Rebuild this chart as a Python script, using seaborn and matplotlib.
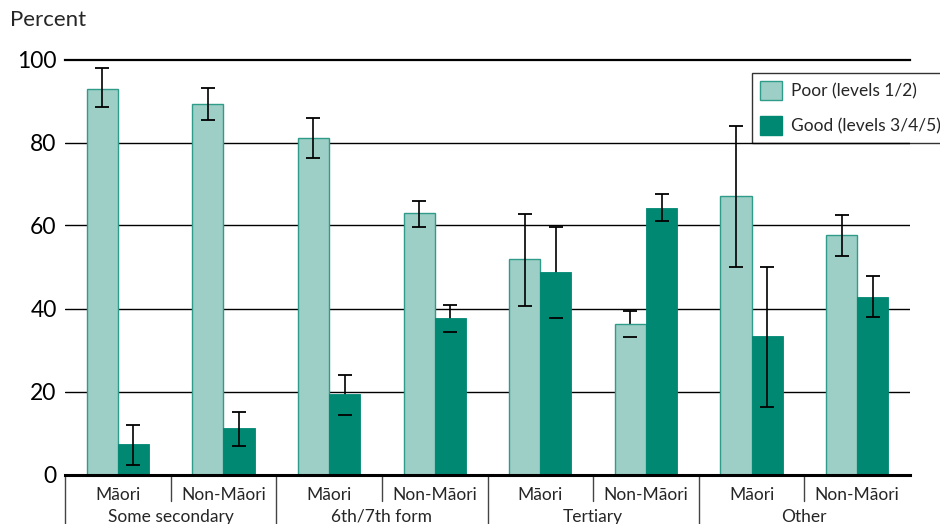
import pandas as pd
import matplotlib
matplotlib.use("Agg")
import matplotlib.pyplot as plt
import seaborn as sns

# education groups and ethnicity sub-groups
groups = ["Some secondary", "6th/7th form", "Tertiary", "Other"]
ethnicity = ["Māori", "Non-Māori"]
series = ["Poor (levels 1/2)", "Good (levels 3/4/5)"]

# percent values per sub-group (Māori, Non-Māori for each group)
poor = [93.0, 89.2, 81.2, 62.9, 51.9, 36.3, 67.1, 57.6]
poor_lo = [88.6, 85.4, 76.2, 59.7, 40.6, 33.1, 50.0, 52.6]
poor_hi = [98.0, 93.2, 85.8, 65.9, 62.7, 39.3, 84.0, 62.5]
good = [7.4, 11.2, 19.5, 37.8, 48.9, 64.1, 33.3, 42.8]
good_lo = [2.4, 6.9, 14.4, 34.4, 37.6, 61.0, 16.3, 37.9]
good_hi = [12.0, 15.1, 24.0, 40.9, 59.7, 67.5, 50.0, 47.8]

# bars where the lower whisker is hidden behind the bar in the original
poor_hidden = [5]
good_hidden = [2, 3, 4]

keys = [f"{g}|{e}" for g in groups for e in ethnicity]
df = pd.DataFrame({
    "key": keys * 2,
    "series": [series[0]] * len(keys) + [series[1]] * len(keys),
    "value": poor + good,
})

light = "#9dcfc6"
light_edge = "#2f9c89"
dark = "#008873"

sns.set_style("white")
plt.rcParams["font.family"] = ["Lato", "DejaVu Sans"]

fig = plt.figure(figsize=(9.4, 5.24), dpi=100)
ax = fig.add_axes([65 / 940, 1 - 474.5 / 524, 845 / 940, 415 / 524])

sns.barplot(data=df, x="key", y="value", hue="series", order=keys,
            hue_order=series, palette=[light, dark], width=0.59,
            errorbar=None, saturation=1, ax=ax, legend=False, zorder=1)

# bar edges
for p in ax.containers[0]:
    p.set_edgecolor(light_edge)
    p.set_linewidth(1.0)
for p in ax.containers[1]:
    p.set_edgecolor(dark)
    p.set_linewidth(0.6)


def draw_errors(container, vals, lo, hi, hidden):
    xs = [p.get_x() + p.get_width() / 2 for p in container]
    for i, x in enumerate(xs):
        z = 0.8 if i in hidden else 2.5
        _, caps, cols = ax.errorbar([x], [vals[i]], yerr=[[vals[i] - lo[i]], [hi[i] - vals[i]]],
                                    fmt="none", ecolor="black", elinewidth=1.2,
                                    capsize=5, capthick=1.3)
        for c in cols:
            c.set_zorder(z)
        for c in caps:
            c.set_zorder(3)


draw_errors(ax.containers[0], poor, poor_lo, poor_hi, poor_hidden)
draw_errors(ax.containers[1], good, good_lo, good_hi, good_hidden)

ax.set_ylim(0, 100)
ax.set_xlim(-0.5, len(keys) - 0.5)
ax.set_yticks([0, 20, 40, 60, 80, 100])
ax.yaxis.grid(True, color="black", linewidth=1.0)
ax.set_axisbelow(True)
ax.tick_params(axis="y", length=0, pad=6, labelsize=16.5, colors="black")
ax.set_xticks([])
ax.set_xlabel("")
ax.set_ylabel("")

for s in ["left", "right"]:
    ax.spines[s].set_visible(False)
ax.spines["top"].set_color("black")
ax.spines["top"].set_linewidth(1.6)
ax.spines["bottom"].set_color("black")
ax.spines["bottom"].set_linewidth(2.2)

# two level category labels under the axis
trans = ax.get_xaxis_transform()
for i, k in enumerate(keys):
    g, e = k.split("|")
    ax.text(i, -0.05, e, transform=trans, ha="center", va="center", fontsize=12.5)
for j, g in enumerate(groups):
    ax.text(2 * j + 0.5, -0.102, g, transform=trans, ha="center", va="center", fontsize=12.5)
    ax.plot([2 * j - 0.5] * 2, [0, -0.2], transform=trans, color="#444444",
            linewidth=1.0, clip_on=False)
    ax.plot([2 * j + 0.5] * 2, [0, -0.063], transform=trans, color="#444444",
            linewidth=1.0, clip_on=False)

# legend
handles = [
    plt.Rectangle((0, 0), 1, 1, facecolor=light, edgecolor=light_edge, linewidth=1.0),
    plt.Rectangle((0, 0), 1, 1, facecolor=dark, edgecolor=dark),
]
leg = fig.legend(handles, series, loc="upper left",
                 bbox_to_anchor=(752 / 940, 1 - 73 / 524), fontsize=12.5,
                 frameon=True, fancybox=False, handlelength=1.25, handleheight=1.3,
                 handletextpad=0.55, borderpad=0.45, labelspacing=0.95,
                 borderaxespad=0)
leg.get_frame().set_edgecolor("black")
leg.get_frame().set_linewidth(1.0)
leg.get_frame().set_facecolor("none")

fig.text(10 / 940, 1 - 20 / 524, "Percent", fontsize=16, va="center", ha="left")

fig.savefig("out.png", dpi=100)
